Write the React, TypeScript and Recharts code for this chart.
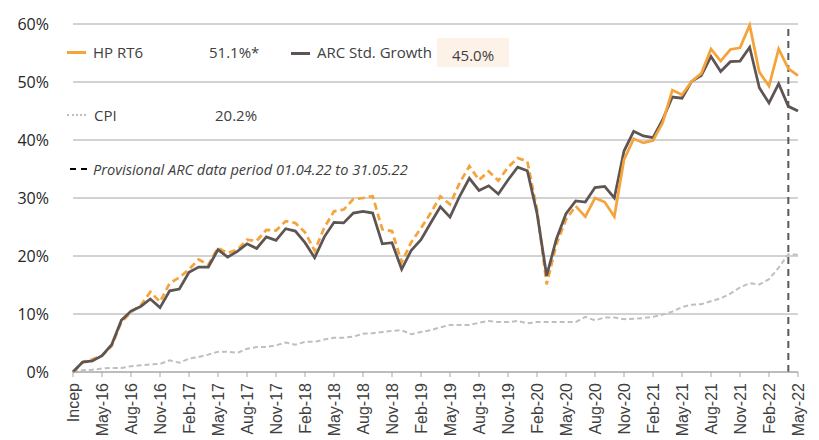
import React from 'react';
import { LineChart, Line, XAxis, YAxis, CartesianGrid, ReferenceLine } from 'recharts';

const months = [
  'Incep', 'Mar-16', 'Apr-16', 'May-16', 'Jun-16', 'Jul-16', 'Aug-16', 'Sep-16', 'Oct-16', 'Nov-16', 'Dec-16',
  'Jan-17', 'Feb-17', 'Mar-17', 'Apr-17', 'May-17', 'Jun-17', 'Jul-17', 'Aug-17', 'Sep-17', 'Oct-17', 'Nov-17', 'Dec-17',
  'Jan-18', 'Feb-18', 'Mar-18', 'Apr-18', 'May-18', 'Jun-18', 'Jul-18', 'Aug-18', 'Sep-18', 'Oct-18', 'Nov-18', 'Dec-18',
  'Jan-19', 'Feb-19', 'Mar-19', 'Apr-19', 'May-19', 'Jun-19', 'Jul-19', 'Aug-19', 'Sep-19', 'Oct-19', 'Nov-19', 'Dec-19',
  'Jan-20', 'Feb-20', 'Mar-20', 'Apr-20', 'May-20', 'Jun-20', 'Jul-20', 'Aug-20', 'Sep-20', 'Oct-20', 'Nov-20', 'Dec-20',
  'Jan-21', 'Feb-21', 'Mar-21', 'Apr-21', 'May-21', 'Jun-21', 'Jul-21', 'Aug-21', 'Sep-21', 'Oct-21', 'Nov-21', 'Dec-21',
  'Jan-22', 'Feb-22', 'Mar-22', 'Apr-22', 'May-22',
];

// cumulative growth, %
const hpRt6 = [
  0, 1.7, 2.2, 2.8, 4.5, 8.6, 10.3, 11.5, 13.8, 12.1, 15.3,
  16.3, 17.7, 19.4, 18.5, 21.4, 20.5, 21.1, 22.8, 22.6, 24.5, 24.4, 26.0,
  25.7, 24.1, 20.9, 24.9, 27.7, 28.0, 29.8, 30.0, 30.3, 24.6, 24.3, 18.9,
  22.4, 24.8, 27.4, 30.3, 28.9, 32.6, 35.5, 33.1, 34.6, 33.0, 35.3, 36.9,
  36.3, 28.0, 15.1, 22.0, 26.3, 28.6, 26.8, 30.0, 29.3, 26.8, 36.6, 40.2,
  39.5, 39.9, 43.0, 48.6, 47.8, 50.1, 51.5, 55.7, 53.6, 55.6, 55.9, 59.8,
  51.7, 49.3, 55.7, 52.3, 51.1,
];

const arcGrowth = [
  0, 1.7, 1.9, 2.8, 4.7, 8.9, 10.5, 11.3, 12.6, 11.1, 14.0,
  14.3, 17.2, 18.1, 18.1, 21.1, 19.8, 20.8, 22.1, 21.3, 23.3, 22.7, 24.7,
  24.3, 22.3, 19.7, 23.3, 25.8, 25.7, 27.4, 27.7, 27.4, 22.1, 22.3, 17.7,
  21.0, 22.8, 25.7, 28.5, 26.7, 30.3, 33.4, 31.3, 32.1, 30.7, 33.1, 35.3,
  34.7, 27.4, 16.6, 22.9, 27.3, 29.5, 29.3, 31.8, 32.0, 30.0, 38.1, 41.5,
  40.7, 40.4, 43.5, 47.4, 47.2, 50.1, 51.1, 54.4, 51.8, 53.5, 53.6, 56.0,
  49.0, 46.4, 49.7, 45.8, 45.0,
];

const cpi = [
  0, 0.3, 0.4, 0.6, 0.7, 0.7, 1.0, 1.15, 1.3, 1.4, 2.0,
  1.6, 2.3, 2.6, 3.0, 3.5, 3.5, 3.3, 4.0, 4.3, 4.3, 4.6, 5.1,
  4.7, 5.2, 5.2, 5.6, 5.9, 5.9, 6.1, 6.6, 6.7, 6.9, 7.1, 7.2,
  6.5, 6.9, 7.2, 7.7, 8.1, 8.1, 8.1, 8.5, 8.8, 8.6, 8.6, 8.8,
  8.4, 8.6, 8.6, 8.6, 8.6, 8.6, 9.5, 8.9, 9.4, 9.4, 9.1, 9.2,
  9.3, 9.5, 9.9, 10.4, 11.2, 11.6, 11.7, 12.2, 12.7, 13.5, 14.6, 15.3,
  15.1, 16.0, 18.0, 20.3, 20.2,
];

// HP RT6 shown dashed up to Jun-20, solid after
const liveFrom = 52;
const yTicks = [0, 10, 20, 30, 40, 50, 60];

const data = months.map((m, i) => ({
  month: m,
  hpSim: i <= liveFrom ? hpRt6[i] : null,
  hpLive: i >= liveFrom ? hpRt6[i] : null,
  arc: arcGrowth[i],
  cpi: cpi[i],
}));

const ORANGE = '#F5A43C';
const DARK = '#5E5553';
const GREY = '#BFBFBF';
const TEXT = '#404040';
const FONT = '"Open Sans", sans-serif';

const XTick = (props: any) => {
  const { x, payload } = props;
  return (
    <text
      x={x}
      y={383}
      transform={`rotate(-90, ${x}, 383)`}
      textAnchor="end"
      dy="0.36em"
      fontSize={16}
      fontFamily='"Liberation Sans", Arial, sans-serif'
      fill={TEXT}
    >
      {payload.value}
    </text>
  );
};

const YTick = (props: any) => {
  const { y, payload } = props;
  return (
    <text x={49} y={y} textAnchor="end" dy="0.35em" fontSize={16} fontFamily={FONT} fill="#262626">
      {payload.value}%
    </text>
  );
};

const abs = (left: number, top: number): React.CSSProperties => ({
  position: 'absolute',
  left,
  top,
  fontFamily: FONT,
  fontSize: 15,
  color: TEXT,
  lineHeight: '20px',
  whiteSpace: 'nowrap',
});

export default function App() {
  return (
    <div style={{ position: 'absolute', left: 0, top: 0, width: 819, height: 440, background: '#fff' }}>
      <LineChart width={819} height={440} data={data} margin={{ top: 24, right: 21, bottom: 0, left: 13 }}>
        <CartesianGrid vertical={false} stroke="#A6A6A6" strokeWidth={1} />
        <XAxis
          dataKey="month"
          interval={2}
          height={68}
          tick={<XTick />}
          tickSize={5}
          tickLine={{ stroke: '#A6A6A6' }}
          axisLine={{ stroke: '#A6A6A6' }}
        />
        <YAxis
          domain={[0, 60]}
          ticks={yTicks}
          width={60}
          axisLine={false}
          tickLine={false}
          tick={<YTick />}
        />
        <ReferenceLine x="Apr-22" stroke="#595959" strokeWidth={2} strokeDasharray="7 5" />
        <Line dataKey="cpi" stroke={GREY} strokeWidth={2} strokeDasharray="5 3" dot={false} isAnimationActive={false} />
        <Line dataKey="hpSim" stroke={ORANGE} strokeWidth={2.75} strokeDasharray="7 4" dot={false} isAnimationActive={false} />
        <Line dataKey="arc" stroke={DARK} strokeWidth={2.75} dot={false} isAnimationActive={false} />
        <Line dataKey="hpLive" stroke={ORANGE} strokeWidth={2.75} dot={false} isAnimationActive={false} />
      </LineChart>

      <div style={{ position: 'absolute', left: 67, top: 51, width: 19, height: 3, background: ORANGE }} />
      <div style={abs(93, 42)}>HP RT6</div>
      <div style={abs(209, 42)}>51.1%*</div>
      <div style={{ position: 'absolute', left: 291, top: 52, width: 19, height: 3, background: DARK }} />
      <div style={abs(317, 42)}>ARC Std. Growth</div>
      <div style={{ position: 'absolute', left: 437, top: 38, width: 72, height: 29, background: '#FDF2E8' }} />
      <div style={abs(452, 45)}>45.0%</div>

      <div style={{ position: 'absolute', left: 67, top: 114, width: 19, height: 0, borderTop: `2px dotted ${GREY}` }} />
      <div style={abs(94, 105)}>CPI</div>
      <div style={abs(215, 105)}>20.2%</div>

      <div style={{ position: 'absolute', left: 70, top: 168, width: 6, height: 2, background: '#000' }} />
      <div style={{ position: 'absolute', left: 81, top: 168, width: 6, height: 2, background: '#000' }} />
      <div style={{ ...abs(93, 159), fontStyle: 'italic', fontSize: 14.6 }}>Provisional ARC data period 01.04.22 to 31.05.22</div>
    </div>
  );
}
